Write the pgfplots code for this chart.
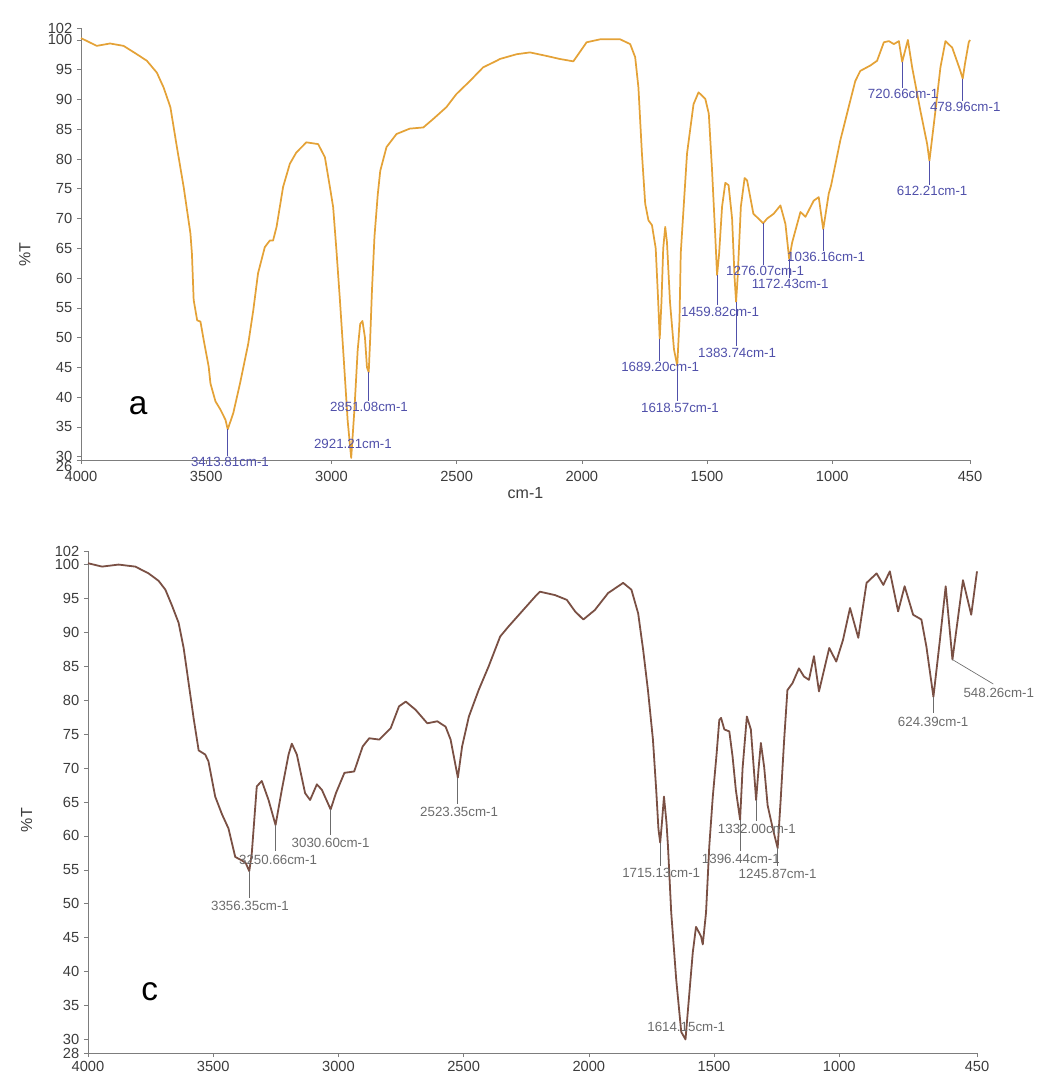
\documentclass[border=0pt]{standalone}
\usepackage{pgfplots}
\pgfplotsset{compat=1.18}
\usepackage{fontspec}
\setmainfont{Liberation Sans}

\definecolor{spcA}{RGB}{228,162,55}
\definecolor{spcC}{RGB}{122,80,68}
\definecolor{pkA}{RGB}{80,80,170}
\definecolor{pkC}{RGB}{108,108,108}
\definecolor{axgray}{RGB}{125,125,125}
\definecolor{txtgray}{RGB}{60,60,60}

\pgfplotsset{
  irpanel/.style={
    scale only axis, width=666.75pt,
    x dir=reverse, xmin=450, xmax=4000,
    axis x line*=bottom, axis y line*=left,
    axis line style={axgray, line width=0.6pt},
    tick style={axgray, line width=0.5pt},
    major tick length=3pt, tick align=outside,
    xtick={4000,3500,3000,2500,2000,1500,1000,450},
    tick label style={font=\fontsize{11}{11}\selectfont, text=txtgray},
    /pgf/number format/assume math mode=true,
    /pgf/number format/1000 sep={},
    ylabel={\%T},
    label style={font=\fontsize{12}{12}\selectfont, text=txtgray},
    clip=false,
  },
  pkA/.style={font=\fontsize{9}{9}\selectfont, text=pkA, xscale=1.2, inner sep=0pt},
  pkC/.style={font=\fontsize{9}{9}\selectfont, text=pkC, xscale=1.2, inner sep=0pt},
}

\begin{document}
\begin{tikzpicture}
\path[use as bounding box] (0pt,0pt) rectangle (789pt,807pt);

% ---------------- spectrum a ----------------
\begin{axis}[irpanel,
  at={(60.75pt,462pt)}, anchor=south west, height=324pt,
  ymin=29.45, ymax=102,
  ytick={30,35,40,45,50,55,60,65,70,75,80,85,90,95,100,102},
  extra y ticks={29.45}, extra y tick labels={26},
  extra y tick style={yticklabel style={yshift=-4.5pt}},
  xticklabel style={yshift=-2pt},
  ylabel style={at={(rel axis cs:0,0.475)}, anchor=center, yshift=42pt},
  xlabel={cm-1},
  xlabel style={at={(rel axis cs:0.5,0)}, anchor=center, yshift=-25pt},
]
\addplot[spcA, line width=1.3pt, line join=round] table {
4000 100.3
3937 99.0
3884 99.4
3830 99.0
3777 97.6
3737 96.5
3697 94.5
3670 92.0
3643 88.7
3617 82.0
3590 75.3
3563 67.5
3557 64.1
3550 56.3
3536 52.9
3523 52.7
3510 49.6
3490 45.1
3483 42.3
3463 39.3
3443 37.9
3423 36.2
3414 34.6
3392 37.3
3365 42.3
3332 49.0
3312 54.6
3293 60.8
3266 65.2
3246 66.3
3233 66.3
3219 68.6
3193 75.3
3166 79.2
3140 81.1
3100 82.8
3053 82.5
3026 80.3
3006 75.3
2993 71.9
2980 64.7
2966 56.3
2953 47.9
2935 36.0
2921 29.8
2908 38.0
2895 48.0
2885 52.3
2876 52.8
2866 50.0
2858 45.0
2851 44.2
2845 50.0
2838 58.0
2828 67.0
2815 74.0
2805 78.0
2780 82.0
2740 84.2
2687 85.1
2633 85.3
2594 86.7
2541 88.7
2501 90.9
2447 93.1
2394 95.4
2340 96.5
2327 96.8
2260 97.6
2207 97.9
2140 97.3
2088 96.8
2034 96.4
2014 97.6
1981 99.6
1927 100.1
1847 100.1
1807 99.3
1787 97.1
1774 92.0
1760 80.9
1747 72.5
1734 69.7
1720 68.9
1705 65.0
1695 56.0
1689 49.8
1682 56.0
1675 65.0
1667 68.6
1660 66.0
1648 56.0
1632 48.0
1619 45.3
1610 53.0
1605 64.2
1580 80.9
1554 89.2
1534 91.2
1507 90.1
1493 87.6
1480 78.1
1467 66.9
1460 60.5
1452 64.0
1440 72.0
1427 76.0
1414 75.6
1400 70.0
1390 60.0
1384 56.0
1378 60.0
1365 72.0
1350 76.8
1340 76.4
1315 70.8
1290 69.8
1276 69.2
1260 70.0
1234 70.8
1207 72.2
1187 69.1
1172 63.2
1160 66.0
1140 69.1
1127 71.1
1107 70.3
1074 73.0
1054 73.6
1036 68.2
1014 74.2
1005 75.5
968 83.1
928 89.8
908 93.1
888 94.8
848 95.7
821 96.5
794 99.6
774 99.8
754 99.3
734 99.8
720.7 96.3
698 100.0
681 95.4
648 88.1
621 82.5
612 79.7
588 88.1
568 95.4
548 99.8
521 98.7
490 95.0
479 93.5
470 96.0
455 99.6
450 100.0
};
% peak markers
\draw[pkA, line width=0.5pt] (axis cs:3413.81,34.6) -- (axis cs:3413.81,30.1);
\draw[pkA, line width=0.5pt] (axis cs:2851.08,44.2) -- (axis cs:2851.08,39.4);
\draw[pkA, line width=0.5pt] (axis cs:1689.20,49.8) -- (axis cs:1689.20,46.1);
\draw[pkA, line width=0.5pt] (axis cs:1618.57,45.3) -- (axis cs:1618.57,39.4);
\draw[pkA, line width=0.5pt] (axis cs:1459.82,60.5) -- (axis cs:1459.82,55.5);
\draw[pkA, line width=0.5pt] (axis cs:1383.74,56.0) -- (axis cs:1383.74,48.6);
\draw[pkA, line width=0.5pt] (axis cs:1276.07,69.2) -- (axis cs:1276.07,62.2);
\draw[pkA, line width=0.5pt] (axis cs:1172.43,63.2) -- (axis cs:1172.43,60.0);
\draw[pkA, line width=0.5pt] (axis cs:1036.16,68.2) -- (axis cs:1036.16,64.5);
\draw[pkA, line width=0.5pt] (axis cs:720.66,96.3) -- (axis cs:720.66,91.9);
\draw[pkA, line width=0.5pt] (axis cs:478.96,93.5) -- (axis cs:478.96,89.7);
\draw[pkA, line width=0.5pt] (axis cs:612.21,79.7) -- (axis cs:612.21,75.6);
\node[pkA] at (axis cs:3405,29.1) {3413.81cm-1};
\node[pkA] at (axis cs:2914,32.1) {2921.21cm-1};
\node[pkA] at (axis cs:2850,38.35) {2851.08cm-1};
\node[pkA] at (axis cs:1687,45.1) {1689.20cm-1};
\node[pkA] at (axis cs:1608,38.2) {1618.57cm-1};
\node[pkA] at (axis cs:1448,54.3) {1459.82cm-1};
\node[pkA] at (axis cs:1380,47.4) {1383.74cm-1};
\node[pkA] at (axis cs:1268,61.2) {1276.07cm-1};
\node[pkA] at (axis cs:1168,59.0) {1172.43cm-1};
\node[pkA] at (axis cs:1024.5,63.5) {1036.16cm-1};
\node[pkA] at (axis cs:717,90.9) {720.66cm-1};
\node[pkA] at (axis cs:469,88.7) {478.96cm-1};
\node[pkA] at (axis cs:601,74.6) {612.21cm-1};
\node[font=\fontsize{25}{25}\selectfont, text=black] at (axis cs:3772,38.6) {a};
\end{axis}

% ---------------- spectrum c ----------------
\begin{axis}[irpanel,
  at={(66pt,17.25pt)}, anchor=south west, height=376.5pt,
  ymin=28, ymax=102,
  ytick={28,30,35,40,45,50,55,60,65,70,75,80,85,90,95,100,102},
  ylabel style={at={(rel axis cs:0,0.464)}, anchor=center, yshift=46pt},
]
\addplot[spcC, line width=1.35pt, line join=round] table {
4000 100.2
3944 99.7
3878 100.0
3811 99.7
3758 98.7
3718 97.6
3691 96.3
3665 94.0
3638 91.4
3618 87.7
3598 82.5
3578 77.3
3558 72.6
3532 72.0
3519 71.0
3492 65.8
3465 63.2
3439 61.1
3412 56.9
3386 56.4
3370 56.0
3356 54.8
3346 57.4
3326 67.3
3306 68.1
3279 65.3
3251 61.6
3226 66.8
3199 72.0
3186 73.6
3166 72.0
3133 66.3
3113 65.3
3086 67.6
3066 66.8
3031 63.9
3010 66.3
2976 69.3
2937 69.5
2903 73.2
2877 74.4
2837 74.2
2791 75.9
2758 79.1
2731 79.8
2692 78.6
2645 76.6
2605 76.9
2572 76.1
2552 74.2
2523 68.6
2506 73.2
2479 77.6
2440 81.5
2400 85.0
2354 89.4
2320 90.9
2267 93.1
2214 95.3
2195 96.0
2135 95.5
2088 94.8
2055 93.1
2022 91.9
1976 93.3
1923 95.8
1863 97.3
1830 96.3
1803 92.8
1783 87.4
1764 81.5
1744 74.2
1731 66.8
1722 61.0
1715 59.0
1708 62.0
1700 65.8
1690 62.0
1684 58.5
1671 48.7
1651 38.8
1631 31.1
1614 30.0
1605 34.0
1585 42.8
1572 46.6
1552 45.2
1545 44.0
1532 48.7
1519 58.5
1505 65.8
1490 72.0
1479 77.1
1472 77.4
1459 75.7
1439 75.4
1426 71.7
1413 66.8
1396 62.4
1386 70.0
1369 77.6
1353 75.7
1340 69.3
1332 65.3
1322 70.0
1313 73.7
1300 70.2
1286 64.5
1265 61.0
1246 58.2
1234 65.3
1220 74.2
1207 81.5
1187 82.5
1161 84.7
1141 83.5
1121 83.0
1101 86.5
1081 81.3
1040 87.7
1012 85.7
985 88.9
957 93.6
924 89.2
891 97.3
851 98.7
824 97.0
798 99.0
765 93.1
739 96.8
705 92.6
672 91.9
652 87.9
624 80.5
598 88.9
575 96.8
548 86.0
506 97.7
473 92.6
450 99.0
};
\draw[pkC, line width=0.5pt] (axis cs:3356.35,54.8) -- (axis cs:3356.35,50.85);
\draw[pkC, line width=0.5pt] (axis cs:3250.66,61.6) -- (axis cs:3250.66,57.8);
\draw[pkC, line width=0.5pt] (axis cs:3030.60,63.9) -- (axis cs:3030.60,60.1);
\draw[pkC, line width=0.5pt] (axis cs:2523.35,68.6) -- (axis cs:2523.35,64.7);
\draw[pkC, line width=0.5pt] (axis cs:1715.13,59.0) -- (axis cs:1715.13,55.6);
\draw[pkC, line width=0.5pt] (axis cs:1396.44,62.4) -- (axis cs:1396.44,57.8);
\draw[pkC, line width=0.5pt] (axis cs:1332.00,65.3) -- (axis cs:1332.00,62.2);
\draw[pkC, line width=0.5pt] (axis cs:1245.87,58.2) -- (axis cs:1245.87,55.6);
\draw[pkC, line width=0.5pt] (axis cs:624.39,80.5) -- (axis cs:624.39,78.1);
\draw[pkC, line width=0.5pt] (axis cs:548.26,86.0) -- (axis cs:385,82.4);
\node[pkC] at (axis cs:3353,49.7) {3356.35cm-1};
\node[pkC] at (axis cs:3241,56.45) {3250.66cm-1};
\node[pkC] at (axis cs:3031,58.95) {3030.60cm-1};
\node[pkC] at (axis cs:2518,63.5) {2523.35cm-1};
\node[pkC] at (axis cs:1711,54.5) {1715.13cm-1};
\node[pkC] at (axis cs:1611,31.8) {1614.15cm-1};
\node[pkC] at (axis cs:1393,56.6) {1396.44cm-1};
\node[pkC] at (axis cs:1329,61.0) {1332.00cm-1};
\node[pkC] at (axis cs:1246,54.4) {1245.87cm-1};
\node[pkC] at (axis cs:625,76.8) {624.39cm-1};
\node[pkC] at (axis cs:363,81.1) {548.26cm-1};
\node[font=\fontsize{25}{25}\selectfont, text=black] at (axis cs:3754,37.1) {c};
\end{axis}
\end{tikzpicture}
\end{document}
